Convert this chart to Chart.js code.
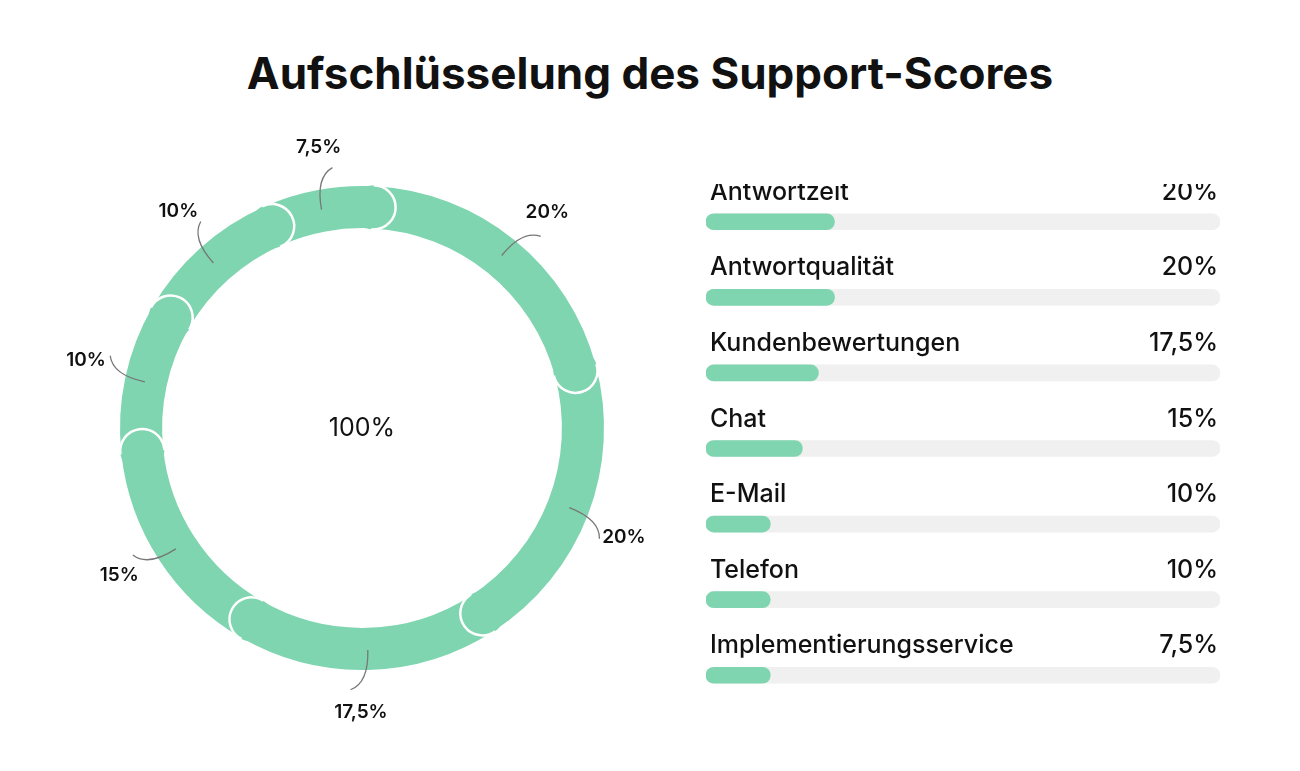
<!DOCTYPE html>
<html><head><meta charset="utf-8">
<script src="https://cdn.jsdelivr.net/npm/chart.js@4"></script>
<style>
body{margin:0;width:1300px;height:771px;background:#fff;font-family:Inter,sans-serif;position:relative;overflow:hidden}
h1{position:absolute;top:46px;left:0;width:1300px;text-align:center;margin:0;font-size:44px;font-weight:700;color:#111}
#d{position:absolute;left:62px;top:128px;width:600px;height:600px}
#b{position:absolute;left:700px;top:184px;width:526px;height:529px}
</style></head><body>
<h1>Aufschlüsselung des Support-Scores</h1>
<div id="d"><canvas id="c1"></canvas></div>
<div id="b"><canvas id="c2"></canvas></div>
<script>
const categories=["Antwortzeit","Antwortqualität","Kundenbewertungen","Chat","E-Mail","Telefon","Implementierungsservice"];
const values=[20,20,17.5,15,10,10,7.5];
const valueLabels=["20%","20%","17,5%","15%","10%","10%","7,5%"];
const barValues=[20,20,17.5,15,10,10,10];
const trackMax=80;
const green="#7fd5b0";

const capPlugin={id:"caps",afterDatasetsDraw(chart){
  const ctx=chart.ctx;const arcs=chart.getDatasetMeta(0).data;
  arcs.forEach((a,i)=>{
    const {x,y,endAngle,innerRadius,outerRadius}=a.getProps(["x","y","endAngle","innerRadius","outerRadius"],true);
    const r=(outerRadius-innerRadius)/2, m=(outerRadius+innerRadius)/2;
    const cx=x+m*Math.cos(endAngle), cy=y+m*Math.sin(endAngle);
    ctx.save();
    ctx.beginPath();ctx.arc(cx,cy,r+1,0,Math.PI*2);ctx.fillStyle=green;ctx.fill();
    ctx.beginPath();ctx.arc(cx,cy,r+1,endAngle-0.05,endAngle+Math.PI+0.05,false);
    ctx.strokeStyle="#fff";ctx.lineWidth=2.5;ctx.stroke();
    ctx.restore();
  });
  arcs.forEach((a,i)=>{
    const {x,y,startAngle,endAngle}=a.getProps(["x","y","startAngle","endAngle"],true);
    const mid=(startAngle+endAngle)/2;
    const x1=x+222*Math.cos(mid), y1=y+222*Math.sin(mid);
    const qx=x+255*Math.cos(mid), qy=y+255*Math.sin(mid);
    const x2=x+262*Math.cos(mid+0.07), y2=y+262*Math.sin(mid+0.07);
    const lx=x+284*Math.cos(mid+0.03), ly=y+284*Math.sin(mid+0.03);
    ctx.save();ctx.beginPath();ctx.moveTo(x1,y1);ctx.quadraticCurveTo(qx,qy,x2,y2);
    ctx.strokeStyle="#777";ctx.lineWidth=1.3;ctx.stroke();
    ctx.fillStyle="#111";ctx.font="600 19px Inter";ctx.textAlign="center";ctx.textBaseline="middle";
    ctx.fillText(valueLabels[i],lx,ly);ctx.restore();
  });
  const c=arcs[0];ctx.save();ctx.fillStyle="#111";ctx.font="25px Inter";ctx.textAlign="center";ctx.textBaseline="middle";
  ctx.fillText("100%",c.x,c.y);ctx.restore();
}};
new Chart(document.getElementById("c1"),{type:"doughnut",
 data:{labels:categories,datasets:[{data:values,backgroundColor:green,borderWidth:0}]},
 options:{responsive:true,maintainAspectRatio:false,animation:false,cutout:"82.6%",rotation:3,
  layout:{padding:58},plugins:{legend:{display:false},tooltip:{enabled:false}}},
 plugins:[capPlugin]});

const textPlugin={id:"txt",afterDatasetsDraw(chart){
  const ctx=chart.ctx,ys=chart.scales.y,xs=chart.scales.x;
  ctx.save();ctx.fillStyle="#111";ctx.font="500 25px Inter";ctx.textBaseline="alphabetic";
  categories.forEach((c,i)=>{const y=ys.getPixelForValue(i)-22;
    ctx.textAlign="left";ctx.fillText(c,xs.left+4,y);
    ctx.textAlign="right";ctx.fillText(valueLabels[i],xs.right-2,y);});
  ctx.restore();}};
new Chart(document.getElementById("c2"),{type:"bar",
 data:{labels:categories,datasets:[
  {data:barValues,backgroundColor:green,borderRadius:9,borderSkipped:false,barThickness:16,order:0},
  {data:categories.map(()=>trackMax),backgroundColor:"#f0f0f0",borderRadius:9,borderSkipped:false,barThickness:16,order:1}]},
 options:{indexAxis:"y",responsive:true,maintainAspectRatio:false,animation:false,
  layout:{padding:{left:6,right:6,top:0,bottom:0}},
  scales:{x:{display:false,min:0,max:trackMax},y:{display:false,stacked:true}},
  plugins:{legend:{display:false},tooltip:{enabled:false}}},
 plugins:[textPlugin]});
</script></body></html>
